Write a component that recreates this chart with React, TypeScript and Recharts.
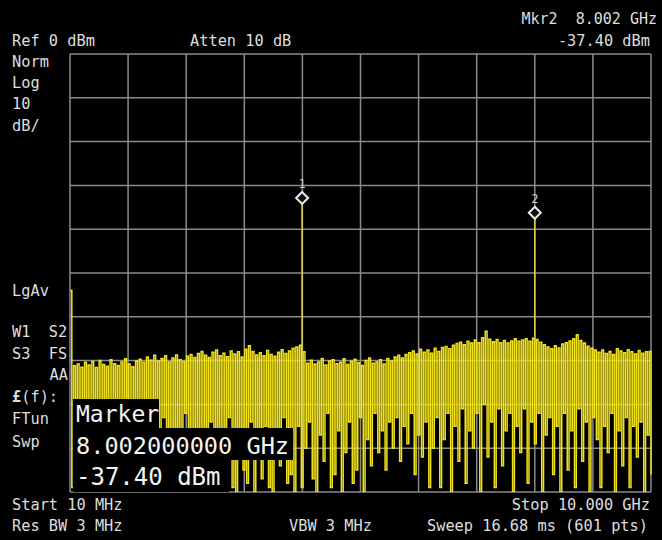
import { ComposedChart, Line, ReferenceDot, ReferenceLine, XAxis, YAxis } from "recharts";

// sweep: 10 MHz .. 10 GHz, Ref 0 dBm, 10 dB/div
const START_MHZ = 10;
const STOP_MHZ = 10000;

const xTicks = [10, 1009, 2008, 3007, 4006, 5005, 6004, 7003, 8002, 9001, 10000];
const yTicks = [-100, -90, -80, -70, -60, -50, -40, -30, -20, -10, 0];

// noise peaks (dBm), left to right
const noisePeaks = [
    -54,
    -71.2, -70.8, -71.5, -70.4, -71.0, -70.2, -71.6, -70.0, -70.9, -71.3, -69.8, -70.7, -71.1, -70.3, -69.6, -70.8, -71.4, -70.1, -69.7,
    -70.4, -69.2, -69.9, -68.8, -70.1, -69.5, -68.9, -70.3, -69.4, -68.7, -69.8, -70.2, -69.0, -68.6, -69.3,
    -68.4, -67.9, -68.8, -69.3, -68.1, -67.6, -68.9, -68.3, -69.1, -67.8, -68.5, -68.0, -69.2, -67.4, -66.6, -67.9, -68.7,
    -68.2, -68.9, -67.7, -68.6, -69.0, -68.1, -67.5, -68.4, -67.8, -67.2, -66.9, -66.5, -68.0,
    -70.6, -69.9, -70.8, -70.3, -69.5, -71.0, -70.1, -69.8, -70.7, -70.4, -69.6, -70.9, -70.2, -69.7, -70.5, -71.1, -70.0, -69.4, -70.6, -70.3, -69.8, -70.8, -69.5, -70.1, -69.2, -68.8, -69.4, -68.6,
    -68.2, -67.8, -68.5, -67.4, -68.1, -67.6, -68.3, -67.2, -67.9, -67.0, -66.8, -67.3,
    -66.5, -66.1, -65.8, -66.4, -65.6, -66.0, -65.3, -65.9, -64.8, -63.3, -65.1, -65.7, -65.2, -65.9, -65.4, -66.0, -65.5, -65.0, -65.6,
    -65.3, -65.0, -65.6, -64.9, -65.2, -65.8,
    -66.4, -66.9, -67.3, -66.6, -67.1, -66.2, -65.9, -65.5, -65.0, -64.1, -65.4, -66.0, -66.7, -67.2, -67.6,
    -68.1, -67.6, -68.4, -67.9, -68.6, -67.3, -67.8, -68.2, -67.5, -68.0, -68.5, -67.7, -68.3, -68.0, -67.9,
];

// noise troughs (dBm), left to right
const noiseTroughs = [
    -99, -84, -97, -100, -86, -95, -99, -83, -100, -92, -98, -85, -100, -96, -88, -99, -84, -100, -94, -97,
    -85, -100, -98, -90, -99, -83, -96, -100, -87, -99, -94, -82, -100, -97, -86, -99, -92, -100, -84, -98,
    -100, -89, -96, -83, -99, -100, -86, -95, -98, -84, -100, -91, -97, -85, -99, -100, -88, -94, -83, -98,
    -96, -100, -85, -99, -90, -84, -97, -100, -87, -93, -82, -99, -96, -86, -100, -91, -84, -98, -95, -83,
    -100, -88, -94, -82, -91, -86, -95, -84, -90, -83, -93, -85, -89, -82, -96, -87, -92, -84, -99, -90,
    -83, -99, -88, -82, -100, -85, -93, -81, -98, -86, -90, -82, -100, -80, -92, -84, -99, -81, -94, -86,
    -82, -100, -85, -91, -81, -98, -84, -89, -82, -100, -87, -83, -96, -85, -100, -82, -95, -86, -99, -81,
    -93, -84, -100, -83, -88, -99, -85, -91, -82, -100, -86, -94, -83, -99, -85, -92, -84, -100, -87, -96,
];

const markerIds = ["1", "2"];
const markerFreqs = [4001, 8002];
const markerLevels = [-34.0, -37.4];
const markerBase = [-69, -66];

// interleave peaks and troughs into the trace
const traceLevels = noisePeaks.flatMap((p, i) => [p, noiseTroughs[i]]);
const trace = traceLevels.map((v, k) => ({
    f: START_MHZ + (k * (STOP_MHZ - START_MHZ)) / (traceLevels.length - 1),
    v,
}));

const TXT = "#dedede";
const MONO = "'DejaVu Sans Mono', 'Liberation Mono', monospace";
const GRID = "#8a8a8a";
const NB = "\u00a0";

function T({ x, y, s, anchor = "start", size = 15.3, fill = TXT }: any) {
    return (
        <text x={x} y={y} textAnchor={anchor} fontSize={size} fill={fill}>
            {s}
        </text>
    );
}

function MarkerDiamond(props: any) {
    const { cx, cy, id } = props;
    const c = cy - 5;
    return (
        <g>
            <polygon
                points={`${cx},${c - 6} ${cx + 6},${c} ${cx},${c + 6} ${cx - 6},${c}`}
                fill="#111"
                stroke="#ececec"
                strokeWidth={2}
            />
            <text x={cx} y={c - 10} textAnchor="middle" fontSize={12} fontFamily={MONO} fill="#c8c8c8">
                {id}
            </text>
        </g>
    );
}

export default function App() {
    return (
        <div style={{ position: "absolute", left: 0, top: 0, width: 662, height: 540, background: "#000", overflow: "hidden" }}>
            <ComposedChart width={662} height={540} data={trace} margin={{ top: 54, right: 11, bottom: 48, left: 70 }}>
                <XAxis
                    type="number"
                    dataKey="f"
                    domain={[START_MHZ, STOP_MHZ]}
                    ticks={xTicks}
                    tick={false}
                    tickLine={false}
                    axisLine={false}
                    height={0}
                />
                <YAxis
                    type="number"
                    domain={[-100, 0]}
                    ticks={yTicks}
                    allowDataOverflow
                    tick={false}
                    tickLine={false}
                    axisLine={false}
                    width={0}
                />
                {xTicks.map((t) => (
                    <ReferenceLine key={`gx${t}`} x={t} stroke={GRID} strokeWidth={1.5} />
                ))}
                {yTicks.map((t) => (
                    <ReferenceLine key={`gy${t}`} y={t} stroke={GRID} strokeWidth={1.5} />
                ))}
                <Line
                    type="stepAfter"
                    dataKey="v"
                    stroke="#f2e21c"
                    strokeWidth={1.5}
                    dot={false}
                    isAnimationActive={false}
                />
                {markerFreqs.map((f, i) => (
                    <Line
                        key={`spike${i}`}
                        data={[
                            { f, v: markerBase[i] },
                            { f, v: markerLevels[i] },
                        ]}
                        type="linear"
                        dataKey="v"
                        stroke="#d9cf55"
                        strokeWidth={1.5}
                        dot={false}
                        isAnimationActive={false}
                    />
                ))}
                {markerFreqs.map((f, i) => (
                    <ReferenceDot
                        key={`mk${i}`}
                        x={f}
                        y={markerLevels[i]}
                        r={5}
                        shape={(p: any) => <MarkerDiamond {...p} id={markerIds[i]} />}
                    />
                ))}
            </ComposedChart>

            <svg width={662} height={540} style={{ position: "absolute", left: 0, top: 0 }} fontFamily={MONO}>
                <T x={657} y={24} s={`Mkr2${NB}${NB}8.002 GHz`} anchor="end" size={15} />
                <T x={12} y={46} s="Ref 0 dBm" />
                <T x={190} y={46} s="Atten 10 dB" />
                <T x={650} y={46} s="-37.40 dBm" anchor="end" />

                <T x={12} y={67} s="Norm" />
                <T x={12} y={88} s="Log" />
                <T x={12} y={109} s="10" />
                <T x={12} y={131} s="dB/" />
                <T x={12} y={296} s="LgAv" />
                <T x={12} y={337} s={`W1${NB}${NB}S2`} />
                <T x={12} y={359} s={`S3${NB}${NB}FS`} />
                <T x={68} y={380} s="AA" anchor="end" />
                <text x={12} y={402} fontSize={15.3} fill={TXT}>
                    <tspan fontWeight="bold">£</tspan>(f):
                </text>
                <T x={12} y={424} s="FTun" />
                <T x={12} y={447} s="Swp" />

                <T x={12} y={510} s="Start 10 MHz" />
                <T x={650} y={510} s="Stop 10.000 GHz" anchor="end" />
                <T x={12} y={531} s="Res BW 3 MHz" />
                <T x={289} y={531} s="VBW 3 MHz" />
                <T x={648} y={531} s="Sweep 16.68 ms (601 pts)" anchor="end" />

                <rect x={73} y={399} width={86} height={30} fill="#000" />
                <rect x={73} y={428} width={220} height={32} fill="#000" />
                <rect x={73} y={459} width={156} height={33} fill="#000" />
                <T x={76} y={422} s="Marker" size={23} fill="#f4f4f4" />
                <T x={76} y={454} s="8.002000000 GHz" size={23.6} fill="#f4f4f4" />
                <T x={76} y={485} s="-37.40 dBm" size={24} fill="#f4f4f4" />
            </svg>
        </div>
    );
}
